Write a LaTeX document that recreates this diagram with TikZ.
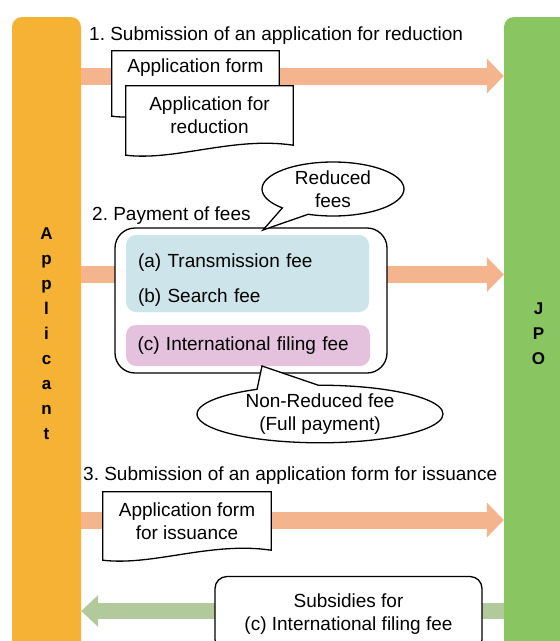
\documentclass[tikz,border=0pt]{standalone}
\usepackage{fontspec}
\setmainfont{Liberation Sans}
\usetikzlibrary{arrows.meta,calc,shapes.callouts}
\frenchspacing

\definecolor{applicantOrange}{RGB}{245,178,53}
\definecolor{jpoGreen}{RGB}{137,198,98}
\definecolor{sendSalmon}{RGB}{243,180,142}
\definecolor{returnGreen}{RGB}{178,202,155}
\definecolor{reducedBlue}{RGB}{205,229,234}
\definecolor{fullPink}{RGB}{228,193,220}

%% document frame with wavy bottom: node name, extra depth below the node
\newcommand{\docOutline}[2]{%
  \fill[white] (#1.south west) -- (#1.south east) -- ($(#1.south east)+(0,#2)$)
    .. controls ($(#1.south east)+(-60,#2-9)$) and ($(#1.south west)+(50,#2+16)$) .. ($(#1.south west)+(0,#2+10)$) -- cycle;
  \draw[lineDecorate] (#1.north west) -- (#1.north east) -- ($(#1.south east)+(0,#2)$)
    .. controls ($(#1.south east)+(-60,#2-9)$) and ($(#1.south west)+(50,#2+16)$) .. ($(#1.south west)+(0,#2+10)$) -- cycle;
}

\begin{document}
\begin{tikzpicture}
[x=1pt,y=-1pt,
  every node/.style={font=\fontsize{19}{23}\selectfont},
  barDecorate/.style={rectangle,rounded corners=10pt,minimum width=69pt,minimum height=634pt,align=center,font=\bfseries\fontsize{17}{25}\selectfont},
  sendDecorate/.style={draw=sendSalmon,line width=17pt,-{Triangle[length=17pt,width=35pt,line width=0pt]}},
  returnDecorate/.style={draw=returnGreen,line width=16pt,-{Triangle[length=17pt,width=32pt,line width=0pt]}},
  lineDecorate/.style={draw=black,line width=1.3pt},
  docDecorate/.style={rectangle,fill=white,inner sep=0pt,align=center},
  feeDecorate/.style={rectangle,rounded corners=10pt,align=left},
  noteDecorate/.style={ellipse callout,lineDecorate,fill=white,inner sep=0pt,align=center}]
\useasboundingbox (0,0) rectangle (560,641);
\clip (0,0) rectangle (560,641);
%% the two parties
\node[barDecorate,fill=applicantOrange] (applicant) at (46.5,334) {A\\p\\p\\l\\i\\c\\a\\n\\t};
\node[barDecorate,fill=jpoGreen] (jpo) at (538.5,334) {J\\P\\O};
%% step titles
\foreach \titlename/\x/\y/\titletext in {titleA/89/36/{1. Submission of an application for reduction},
    titleB/92/216/{2. Payment of fees}, titleC/83/476/{3. Submission of an application form for issuance}} {
  \node[anchor=west,inner sep=0pt] (\titlename) at (\x,\y) {\titletext};
}
%% flows
\coordinate (rowA) at (0,76);
\coordinate (rowB) at (0,274.5);
\coordinate (rowC) at (0,520);
\coordinate (rowD) at (0,611);
\draw[sendDecorate] (applicant.east |- rowA) -- (jpo.west |- rowA);
\draw[sendDecorate] (applicant.east |- rowB) -- (jpo.west |- rowB);
\draw[sendDecorate] (applicant.east |- rowC) -- (jpo.west |- rowC);
\draw[returnDecorate] (jpo.west |- rowD) -- (applicant.east |- rowD);
%% step 1 documents
\node[docDecorate,minimum width=167pt,minimum height=33pt] (formDoc) at (195.5,67.5) {Application form};
\docOutline{formDoc}{22}
\node[docDecorate,minimum width=167pt,minimum height=59pt] (reductionDoc) at (209.5,115.5) {Application for\\reduction};
\docOutline{reductionDoc}{0}
%% step 2 fees
\node[rectangle,rounded corners=20pt,lineDecorate,fill=white,minimum width=272pt,minimum height=145pt] (feeBox) at (251,300.5) {};
\node[feeDecorate,fill=reducedBlue,minimum width=243pt,minimum height=77pt,text width=219pt,inner xsep=12pt] (reducedFees) at (247.5,273.5) {\rule{0pt}{27pt}(a) Transmission fee\\[12pt](b) Search fee};
\node[feeDecorate,fill=fullPink,minimum width=244pt,minimum height=41pt,text width=221pt,inner xsep=11.5pt] (fullFee) at (248,345.5) {(c) International filing fee};
\coordinate (reducedTip) at (263,230);
\coordinate (fullTip) at (262,366);
\node[noteDecorate,minimum width=142pt,minimum height=54pt,callout absolute pointer=(reducedTip),callout pointer arc=25] (reducedNote) at (333,189) {Reduced\\fees};
\node[noteDecorate,minimum width=246pt,minimum height=57pt,callout absolute pointer=(fullTip),callout pointer arc=30] (fullNote) at (320,414) {Non-Reduced fee\\(Full payment)};
%% step 3 document and subsidy
\node[docDecorate,minimum width=168pt,minimum height=58pt] (issuanceDoc) at (187,521) {Application form\\for issuance};
\docOutline{issuanceDoc}{0}
\node[rectangle,rounded corners=12pt,lineDecorate,fill=white,minimum width=267pt,minimum height=75pt,align=center] (subsidyBox) at (348.5,614) {Subsidies for\\(c) International filing fee};
\end{tikzpicture}
\end{document}
